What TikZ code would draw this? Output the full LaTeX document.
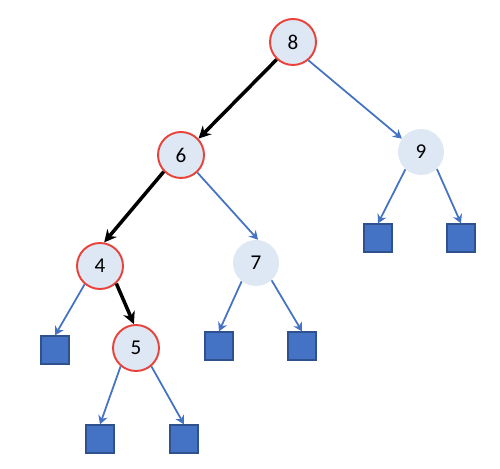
\documentclass[tikz,border=0pt]{standalone}
\usepackage{fontspec}
\setmainfont{Carlito}
\usetikzlibrary{arrows.meta}
\definecolor{keyfill}{HTML}{DEE8F4}
\definecolor{keyred}{HTML}{E8423A}
\definecolor{leafblue}{HTML}{4472C4}
\definecolor{leafline}{HTML}{2F528F}

\begin{document}
\begin{tikzpicture}[
  font=\fontsize{12}{14}\selectfont,
  key/.style={circle, fill=keyfill, minimum size=0.92cm, inner sep=0pt},
  onpath/.style={key, draw=keyred, line width=1.1pt},
  leaf/.style={rectangle, fill=leafblue, draw=leafline, line width=0.7pt, minimum size=0.56cm, inner sep=0pt},
  edge/.style={draw=leafblue, line width=1pt, -{Stealth[length=5pt,width=5.5pt]}},
  walk/.style={draw=black, line width=2pt, -{Stealth[length=7pt,width=7pt]}}
]
\useasboundingbox (0.000,0.000) rectangle (10.000,9.360);
% keys
\node[onpath] (n8) at (5.860,8.520) {8};
\node[onpath] (n6) at (3.620,6.260) {6};
\node[key]    (n9) at (8.420,6.320) {9};
\node[onpath] (n4) at (2.000,4.040) {4};
\node[key]    (n7) at (5.120,4.100) {7};
\node[onpath] (n5) at (2.720,2.400) {5};
% empty leaves
\node[leaf] (l9a) at (7.560,4.600) {};
\node[leaf] (l9b) at (9.220,4.600) {};
\node[leaf] (l4)  at (1.100,2.360) {};
\node[leaf] (l7a) at (4.380,2.440) {};
\node[leaf] (l7b) at (6.040,2.440) {};
\node[leaf] (l5a) at (2.000,0.580) {};
\node[leaf] (l5b) at (3.680,0.580) {};
% search path
\draw[walk] (n8.227) -- (n6.43);
\draw[walk] (n6.224) -- (n4.80);
\draw[walk] (n4.313) -- (n5.95);
% other links
\draw[edge] (n8.310) -- (n9.145);
\draw[edge] (n6.313) -- (n7.85);
\draw[edge] (n9.228) -- (l9a.north);
\draw[edge] (n9.313) -- (l9b.north);
\draw[edge] (n4.230) -- (l4.north);
\draw[edge] (n7.232) -- (l7a.north);
\draw[edge] (n7.312) -- (l7b.north);
\draw[edge] (n5.230) -- (l5a.north);
\draw[edge] (n5.310) -- (l5b.north);
\end{tikzpicture}
\end{document}
